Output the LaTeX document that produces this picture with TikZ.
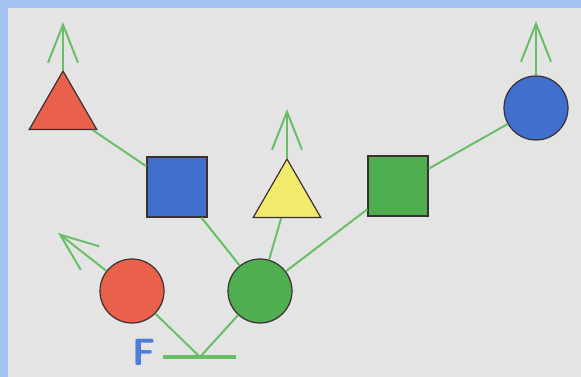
\documentclass[tikz,border=0pt]{standalone}
\usetikzlibrary{arrows.meta,shapes.geometric}
\tikzset{>={Straight Barb[length=38pt,width=30pt]}}
\definecolor{frame}{HTML}{A2C2F2}
\definecolor{paper}{HTML}{E4E4E4}
\definecolor{stem}{HTML}{6BBE68}
\definecolor{rim}{HTML}{3A3030}
\definecolor{redfig}{HTML}{E9604B}
\definecolor{bluefig}{HTML}{4070CC}
\definecolor{yellowfig}{HTML}{F2EA6C}
\definecolor{greenfig}{HTML}{4FAE4F}
\definecolor{letter}{HTML}{4A7ED8}

\begin{document}
\begin{tikzpicture}[x=1pt,y=-1pt]

\tikzstyle{edge}=[draw=stem,line width=2pt]
\tikzstyle{fig}=[draw=rim,line width=1.2pt,inner sep=0pt]
\tikzstyle{ball}=[fig,circle,minimum size=64pt]
\tikzstyle{box}=[fig,rectangle,minimum size=60pt]
\tikzstyle{tri}=[fig,regular polygon,regular polygon sides=3,minimum size=78pt]

 \fill[frame] (0,0) rectangle (581,377);
 \fill[paper] (8,8) rectangle (581,377);

 \node[ball,fill=redfig]    (rc) at (132,291) {};
 \node[ball,fill=greenfig]  (gc) at (260,291) {};
 \node[box,fill=bluefig]    (bs) at (177,187) {};
 \node[tri,fill=yellowfig]  (yt) at (287,198) {};
 \node[box,fill=greenfig]   (gs) at (398,186) {};
 \node[tri,fill=redfig]     (rt) at (63,110) {};
 \node[ball,fill=bluefig]   (bc) at (536,108) {};

 \coordinate (j)  at (200,357);
 \coordinate (fl) at (163,357);
 \coordinate (fr) at (236,357);
 \coordinate (rcup) at (58,233);
 \coordinate (rtup) at (63,22);
 \coordinate (ytup) at (287,109);
 \coordinate (bcup) at (536,21);

 \node[text=letter,font=\fontsize{38}{38}\sffamily\bfseries,
  anchor=base east,inner sep=0pt] (f) at (156,365) {F};

 \draw[edge,line width=4pt] (fl) -- (fr);
 \draw[edge] (j) -- (rc);
 \draw[edge] (j) -- (gc);
 \draw[edge] (gc) -- (bs);
 \draw[edge] (gc) -- (yt);
 \draw[edge] (gc) -- (gs);
 \draw[edge] (bs) -- (rt);
 \draw[edge] (gs) -- (bc);

 \draw[edge,->] (rc) -- (rcup);
 \draw[edge,->] (rt.corner 1) -- (rtup);
 \draw[edge,->] (yt.corner 1) -- (ytup);
 \draw[edge,->] (bc) -- (bcup);
\end{tikzpicture}
\end{document}
